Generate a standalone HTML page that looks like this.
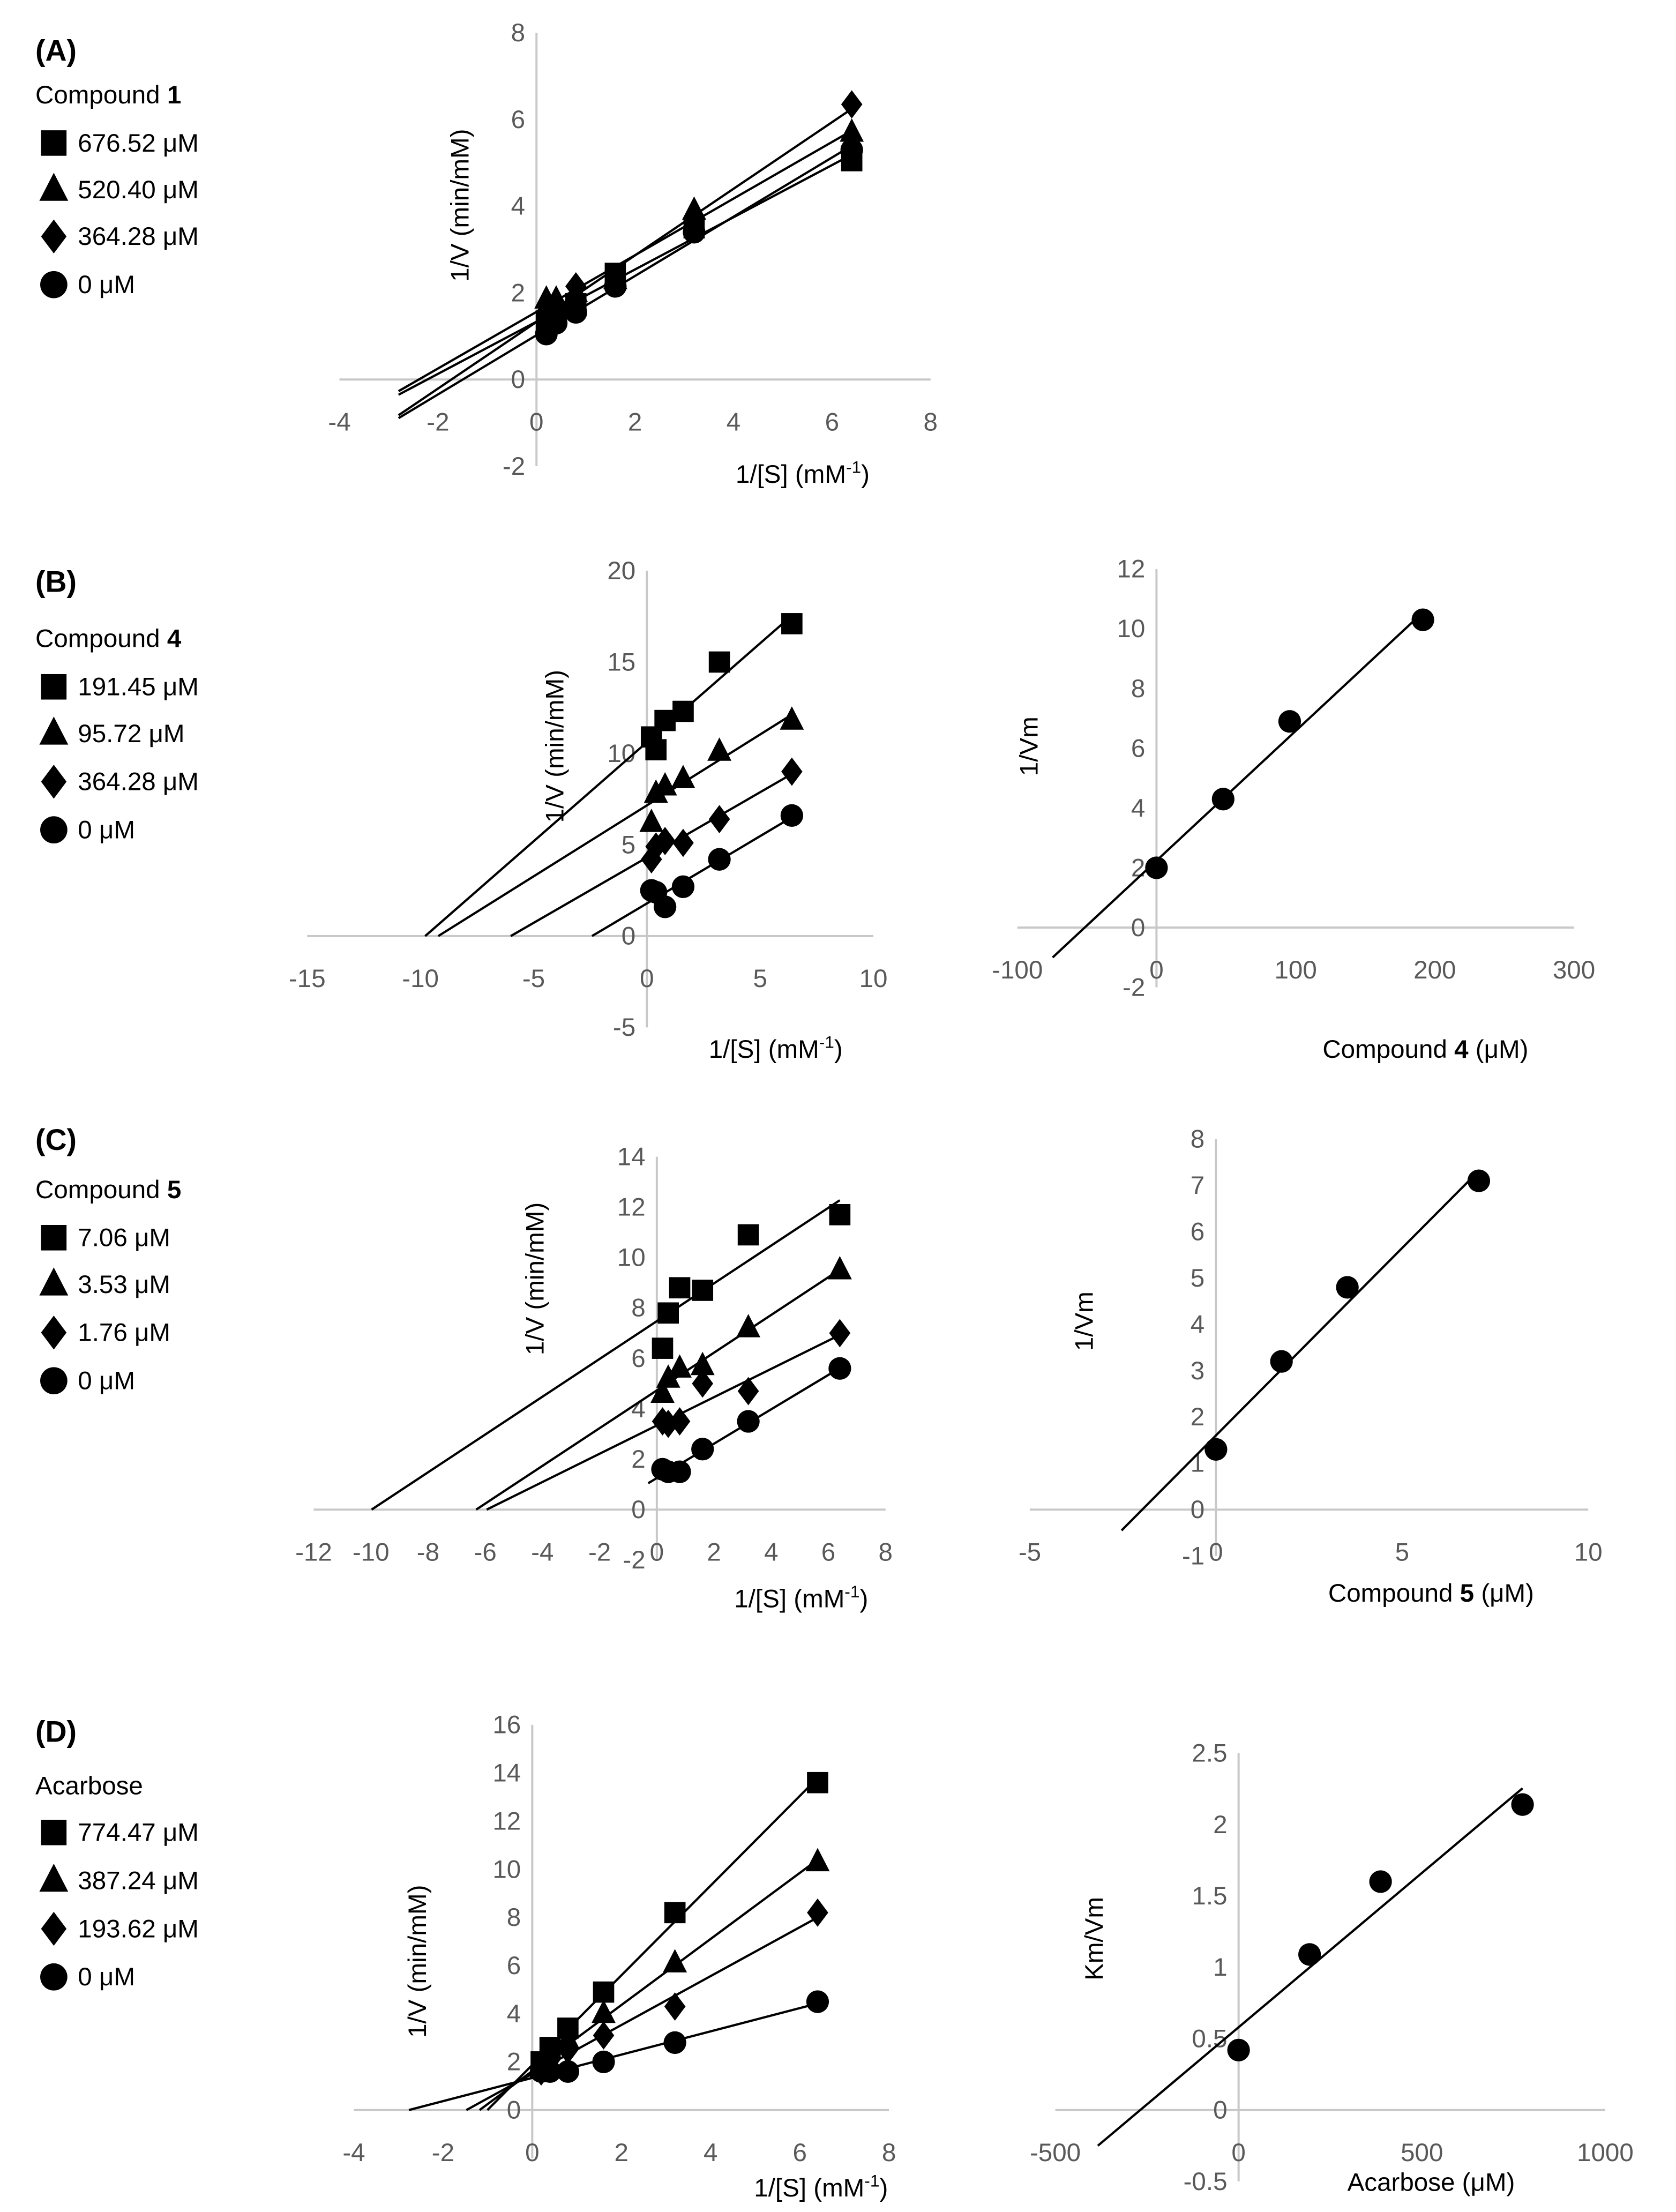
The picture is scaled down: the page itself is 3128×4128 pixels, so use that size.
<!DOCTYPE html>
<html><head><meta charset="utf-8"><style>
html,body{margin:0;padding:0;background:#fff;}
svg{display:block;}
text{font-family:"Liberation Sans",sans-serif;}
.tk{fill:#595959;font-size:18px;}
.lg{fill:#000;font-size:18px;}
.ti{fill:#000;font-size:18px;}
</style></head><body>
<svg id="fig" width="3128" height="4128" viewBox="0 0 1184 1562" preserveAspectRatio="none" xmlns="http://www.w3.org/2000/svg"></svg>
<script>
// ---------- data ----------
const sx = [0.2,0.4,0.8,1.6,3.2,6.4];
// Panel A
const aSquare=[1.35,1.5,1.75,2.45,3.5,5.05];
const aTri=[1.85,1.85,2.0,2.3,3.9,5.7];
const aDia=[1.55,1.65,2.15,2.3,3.65,6.35];
const aCirc=[1.05,1.3,1.55,2.15,3.4,5.3];
const aLegend=["676.52 μM","520.40 μM","364.28 μM","0 μM"];
// Panel B
const bSquare=[10.9,10.2,11.8,12.3,15.0,17.1];
const bTri=[6.2,7.8,8.2,8.6,10.1,11.8];
const bDia=[4.2,4.9,5.2,5.1,6.4,9.0];
const bCirc=[2.5,2.4,1.6,2.7,4.2,6.6];
const bLegend=["191.45 μM","95.72 μM","364.28 μM","0 μM"];
const bConc=[0,47.9,95.7,191.45];
const bInvVm=[2.0,4.3,6.9,10.3];
// Panel C
const cSquare=[6.4,7.8,8.8,8.7,10.9,11.7];
const cTri=[4.6,5.2,5.6,5.7,7.2,9.5];
const cDia=[3.5,3.4,3.5,5.0,4.7,7.0];
const cCirc=[1.6,1.5,1.5,2.4,3.5,5.6];
const cLegend=["7.06 μM","3.53 μM","1.76 μM","0 μM"];
const cConc=[0,1.76,3.53,7.06];
const cInvVm=[1.3,3.2,4.8,7.1];
// Panel D
const dSquare=[2.0,2.6,3.4,4.9,8.2,13.6];
const dTri=[1.7,2.0,2.9,4.0,6.1,10.3];
const dDia=[1.6,2.1,2.5,3.1,4.3,8.2];
const dCirc=[1.6,1.6,1.6,2.0,2.8,4.5];
const dLegend=["774.47 μM","387.24 μM","193.62 μM","0 μM"];
const dConc=[0,193.62,387.24,774.47];
const dKmVm=[0.42,1.09,1.6,2.14];
// tick arrays
const aXT=[-4,-2,0,2,4,6,8], aYT=[-2,0,2,4,6,8];
const bXT=[-15,-10,-5,0,5,10], bYT=[-5,0,5,10,15,20];
const b2XT=[-100,0,100,200,300], b2YT=[-2,0,2,4,6,8,10,12];
const cXT=[-12,-10,-8,-6,-4,-2,0,2,4,6,8], cYT=[-2,0,2,4,6,8,10,12,14];
const c2XT=[-5,0,5,10], c2YT=[-1,0,1,2,3,4,5,6,7,8];
const dXT=[-4,-2,0,2,4,6,8], dYT=[0,2,4,6,8,10,12,14,16];
const d2XT=[-500,0,500,1000], d2YT=[-0.5,0,0.5,1,1.5,2,2.5];

const NS="http://www.w3.org/2000/svg";
const svg=document.getElementById('fig');
function mk(tag,attrs,parent){const e=document.createElementNS(NS,tag);for(const k in attrs)e.setAttribute(k,attrs[k]);(parent||svg).appendChild(e);return e;}
function txt(s,x,y,cls,anchor,parent){const t=mk('text',{x:x,y:y,class:cls,'text-anchor':anchor||'start'},parent);t.textContent=s;return t;}
function reg(xs,ys){const n=xs.length;let mx=0,my=0;for(let i=0;i<n;i++){mx+=xs[i];my+=ys[i];}mx/=n;my/=n;let sxy=0,sxx=0;for(let i=0;i<n;i++){sxy+=(xs[i]-mx)*(ys[i]-my);sxx+=(xs[i]-mx)**2;}const m=sxy/sxx;return {m:m,b:my-m*mx};}
function marker(type,x,y,g,s){
  s=s||1;
  let e;
  if(type==='square'){e=mk('rect',{x:x-7.5*s,y:y-7.5*s,width:15*s,height:15*s,fill:'#000'},g);}
  else if(type==='tri'){e=mk('polygon',{points:`${x},${y-10*s} ${x+8.5*s},${y+6.5*s} ${x-8.5*s},${y+6.5*s}`,fill:'#000'},g);}
  else if(type==='dia'){e=mk('polygon',{points:`${x},${y-10*s} ${x+7.5*s},${y} ${x},${y+10*s} ${x-7.5*s},${y}`,fill:'#000'},g);}
  else {e=mk('circle',{cx:x,cy:y,r:8*s,fill:'#000'},g);}
  
  
  return e;
}
function chart(name,ax,xt,yt,series,xTitle,yTitle){
  const g=mk('g',{});
  
  
  const X=v=>ax.x0+v*ax.px, Y=v=>ax.y0-v*ax.py;
  const h=mk('line',{x1:X(ax.xMin),x2:X(ax.xMax),y1:ax.y0,y2:ax.y0,stroke:'#c8c8c8','stroke-width':1.5},g);
  
  const v=mk('line',{x1:ax.x0,x2:ax.x0,y1:Y(ax.yMax),y2:Y(ax.yMin),stroke:'#c8c8c8','stroke-width':1.5},g);
  
  xt.forEach(t=>{const e=txt(String(t),X(t),ax.y0+36,'tk','middle',g);});
  yt.forEach(t=>{const e=txt(String(t),ax.x0-8,Y(t)+6,'tk','end',g);});
  series.forEach(s=>{
    const r=reg(s.x,s.y);
    let xs=s.from!==undefined?s.from:(s.yStart!==undefined?(s.yStart-r.b)/r.m:-r.b/r.m);
    const xe=s.x[s.x.length-1];
    const l=mk('line',{x1:X(xs),y1:Y(r.m*xs+r.b),x2:X(xe),y2:Y(r.m*xe+r.b),stroke:'#000','stroke-width':1.6},g);
    
    
    s.x.forEach((xv,i)=>marker(s.type,X(xv),Y(s.y[i]),g));
  });
  const xtt=mk('text',{x:xTitle.x,y:xTitle.y,class:'ti','text-anchor':'middle'},g);
  xtt.innerHTML=xTitle.html;
  
  const ytt=mk('text',{x:0,y:0,class:'ti','text-anchor':'middle',transform:`translate(${yTitle.x},${yTitle.y}) rotate(-90)`},g);
  ytt.innerHTML=yTitle.html;
  
}
function legend(name,label,compHtml,entries,ys){
  const g=mk('g',{});
  
  
  const l=mk('text',{x:25,y:ys[0],style:'font-size:21px;font-weight:bold'},g);l.textContent=label;
  
  const c=mk('text',{x:25,y:ys[1],class:'lg'},g);c.innerHTML=compHtml;
  
  const types=['square','tri','dia','circ'];
  entries.forEach((e,i)=>{const y=ys[2+i];marker(types[i],38,y-6,g,1.2);const t=txt(e,55,y,'lg','start',g);
    });
}
const sup='1/[S] (mM<tspan dy="-7" font-size="12">-1</tspan><tspan dy="7">)</tspan>';
const yv='1/V (min/mM)';
function S(ys,type){return {x:sx,y:ys,type:type};}

// Panel A
legend('legend-a','(A)','Compound <tspan font-weight="bold">1</tspan>',aLegend,[43,73,107,140,173,207]);
chart('chart-a',{x0:379,y0:268,px:34.8,py:30.6,xMin:-4,xMax:8,yMin:-2,yMax:8},aXT,aYT,
  [Object.assign(S(aSquare,'square'),{from:-2.8}),Object.assign(S(aTri,'tri'),{from:-2.8}),Object.assign(S(aDia,'dia'),{from:-2.8}),Object.assign(S(aCirc,'circ'),{from:-2.8})],
  {x:567,y:341,html:sup},{x:331,y:145,html:yv});

// Panel B
legend('legend-b','(B)','Compound <tspan font-weight="bold">4</tspan>',bLegend,[418,457,491,524,558,592]);
chart('chart-b-lineweaver',{x0:457,y0:661,px:16,py:12.9,xMin:-15,xMax:10,yMin:-5,yMax:20},bXT,bYT,
  [S(bSquare,'square'),S(bTri,'tri'),S(bDia,'dia'),S(bCirc,'circ')],
  {x:548,y:747,html:sup},{x:398,y:527,html:yv});
chart('chart-b-secondary',{x0:817,y0:655,px:0.983,py:21.1,xMin:-100,xMax:300,yMin:-2,yMax:12},b2XT,b2YT,
  [{x:bConc,y:bInvVm,type:'circ',yStart:-1.0}],
  {x:1007,y:747,html:'Compound <tspan font-weight="bold">4</tspan> (μM)'},{x:733,y:527,html:'1/Vm'});

// Panel C
legend('legend-c','(C)','Compound <tspan font-weight="bold">5</tspan>',cLegend,[812,846,880,913,947,981]);
chart('chart-c-lineweaver',{x0:464,y0:1066,px:20.2,py:17.8,xMin:-12,xMax:8,yMin:-2,yMax:14},cXT,cYT,
  [S(cSquare,'square'),S(cTri,'tri'),S(cDia,'dia'),Object.assign(S(cCirc,'circ'),{from:-0.3})],
  {x:566,y:1135,html:sup},{x:384,y:903,html:yv});
chart('chart-c-secondary',{x0:859,y0:1066,px:26.3,py:32.7,xMin:-5,xMax:10,yMin:-1,yMax:8},c2XT,c2YT,
  [{x:cConc,y:cInvVm,type:'circ',yStart:-0.45}],
  {x:1011,y:1131,html:'Compound <tspan font-weight="bold">5</tspan> (μM)'},{x:772,y:933,html:'1/Vm'});

// Panel D
legend('legend-d','(D)','Acarbose',dLegend,[1230,1267,1300,1334,1368,1402]);
chart('chart-d-lineweaver',{x0:376,y0:1490,px:31.5,py:17,xMin:-4,xMax:8,yMin:-2,yMax:16},dXT,dYT,
  [S(dSquare,'square'),S(dTri,'tri'),S(dDia,'dia'),S(dCirc,'circ')],
  {x:580,y:1551,html:sup},{x:301,y:1385,html:yv});
chart('chart-d-secondary',{x0:875,y0:1490,px:0.259,py:100.8,xMin:-500,xMax:1000,yMin:-0.5,yMax:2.5},d2XT,d2YT,
  [{x:dConc,y:dKmVm,type:'circ',yStart:-0.25}],
  {x:1011,y:1547,html:'Acarbose (μM)'},{x:779,y:1369,html:'Km/Vm'});
</script>
</body></html>
